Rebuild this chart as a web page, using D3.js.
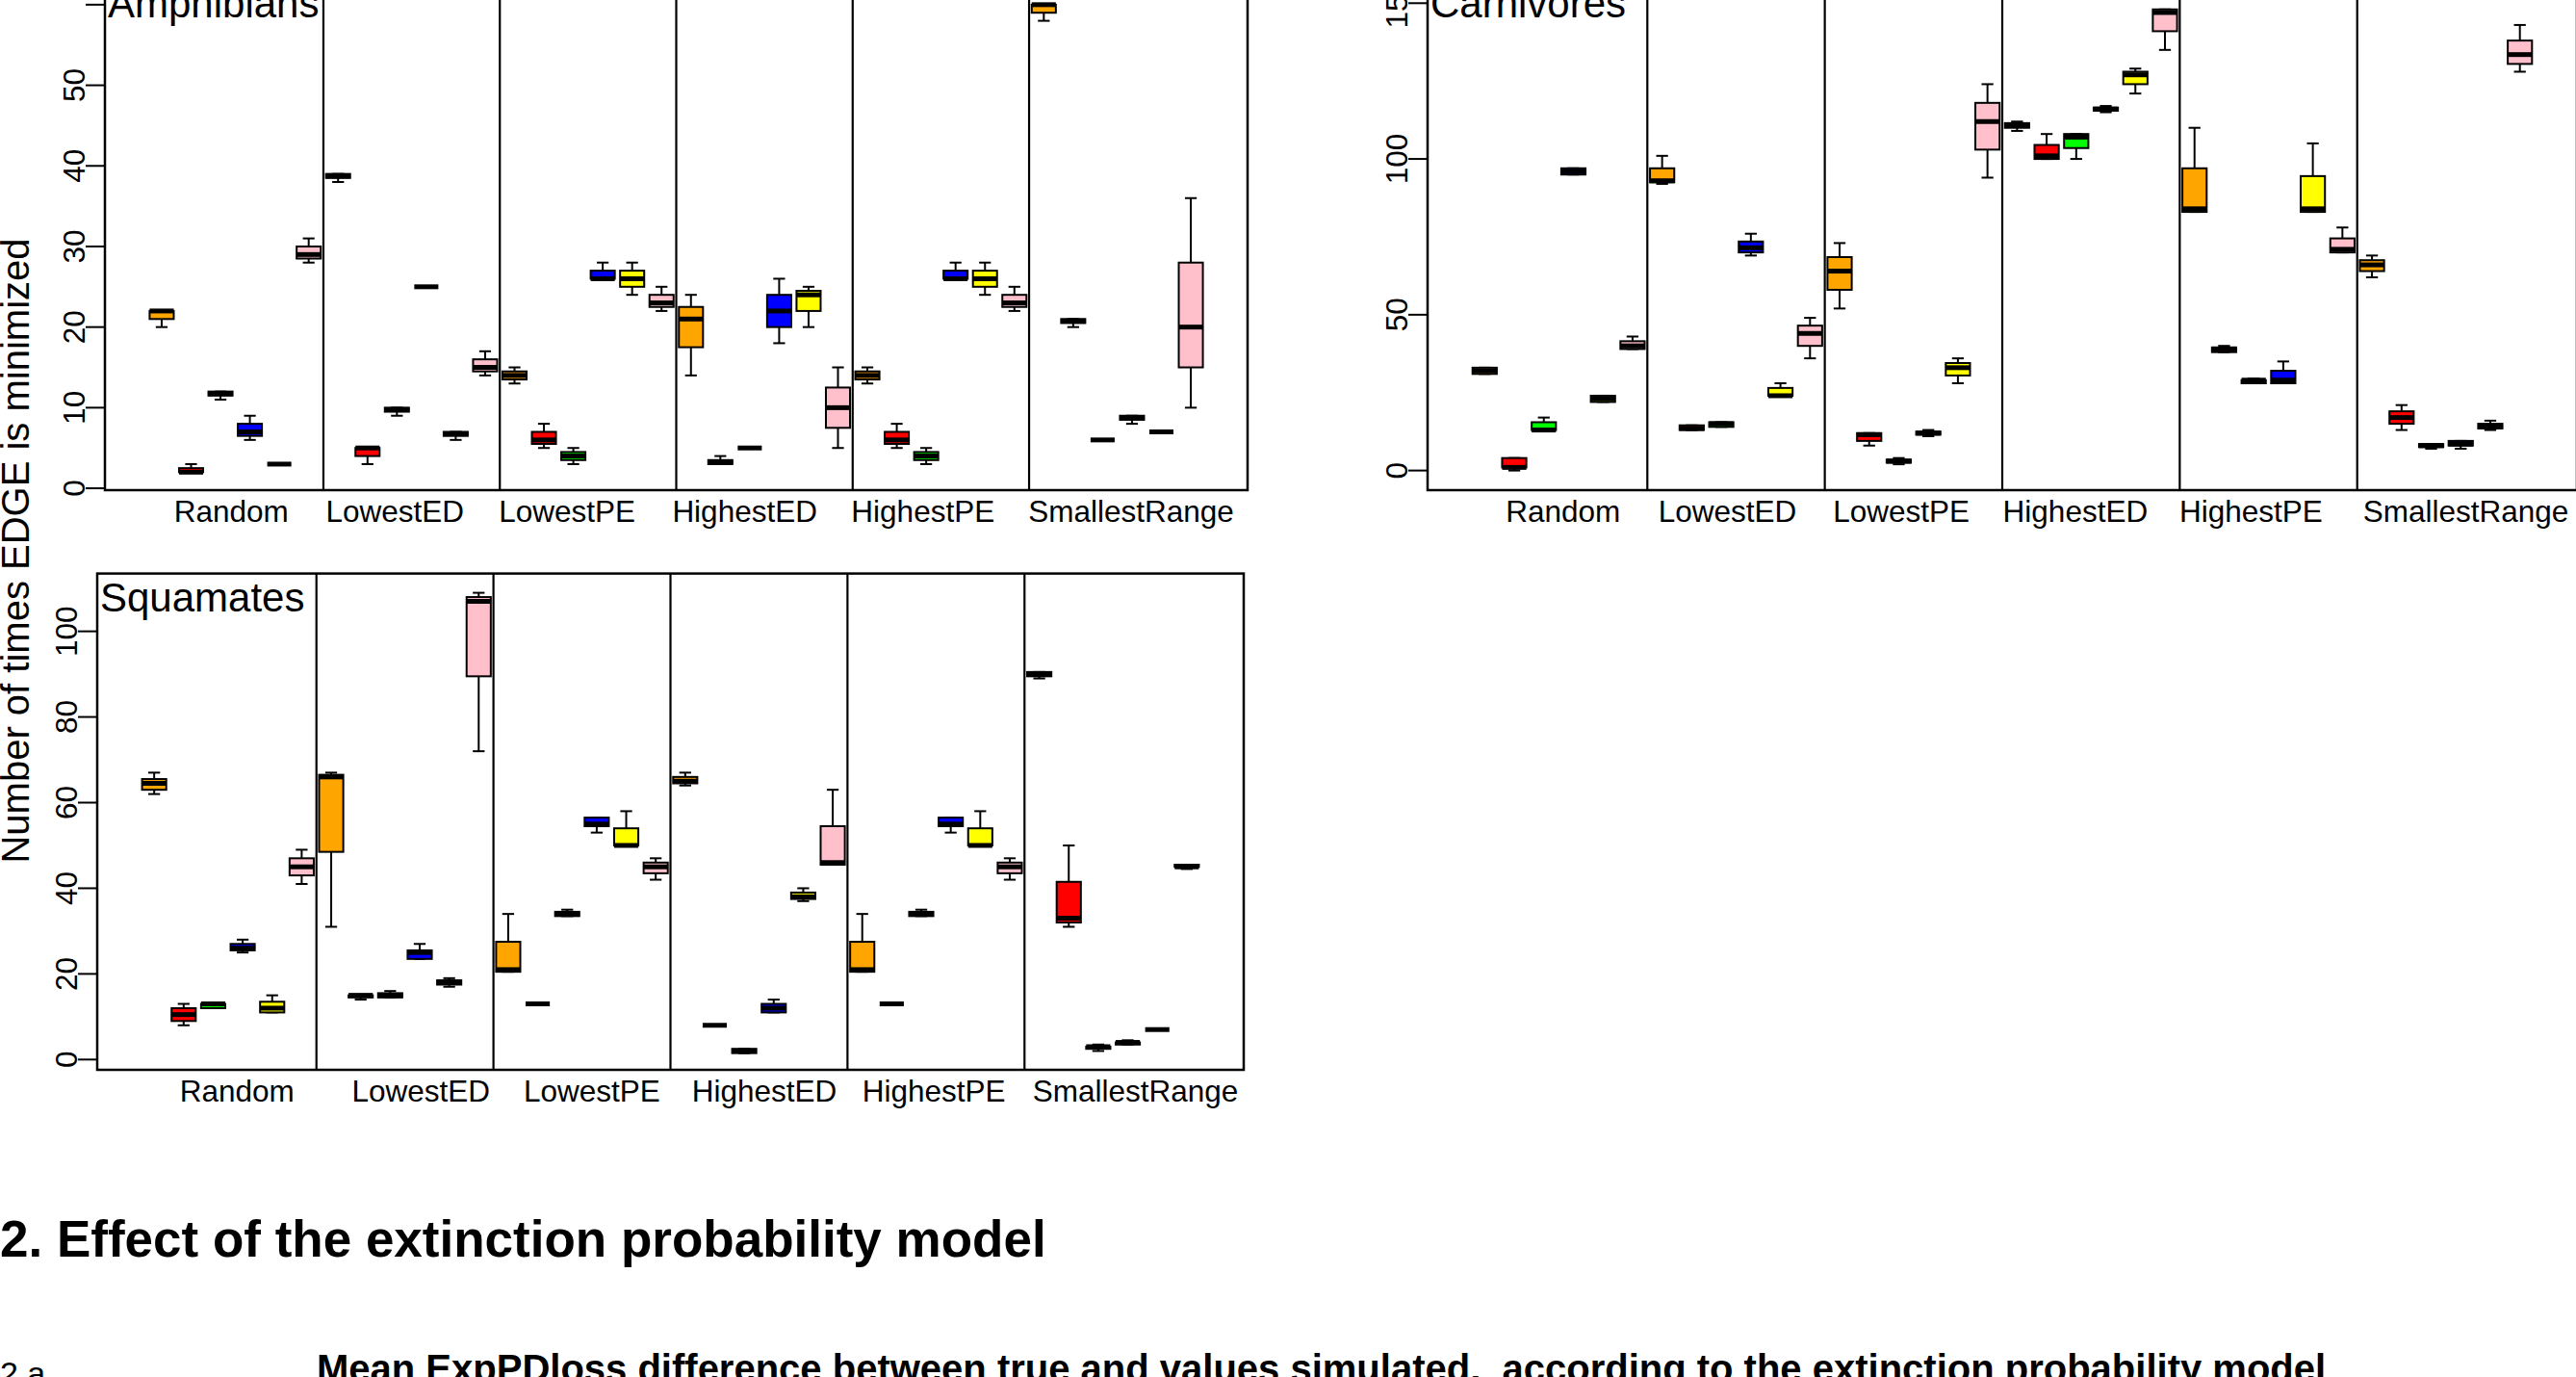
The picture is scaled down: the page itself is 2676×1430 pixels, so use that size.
<!DOCTYPE html>
<html><head><meta charset="utf-8">
<script src="https://cdn.jsdelivr.net/npm/d3@7"></script>
<style>
html,body{margin:0;padding:0;background:#fff;overflow:hidden;}
svg{display:block;font-family:"Liberation Sans",Arial,Helvetica,sans-serif;}
</style></head>
<body>
<svg id="chart" width="2676" height="1430"></svg>
<script>
// ---------- DATA ----------
const strategies = ["Random","LowestED","LowestPE","HighestED","HighestPE","SmallestRange"];
const seriesColors = ["orange","red","#00ff00","blue","yellow","pink"];
// five-number summaries [lowWhisker, q1, median, q3, highWhisker]; 6 boxes per strategy
const amphibiansStats = [
  [20,21,22,22,22],[2,2,2,2.5,3],[11,11.5,11.75,12,12],[6,6.5,7,8,9],[3,3,3,3,3],[28,28.5,29,30,31],
  [38,38.5,38.75,39,39],[3,4,5,5,5],[9,9.5,9.75,10,10],[25,25,25,25,25],[6,6.5,6.75,7,7],[14,14.5,15,16,17],
  [13,13.5,14,14.5,15],[5,5.5,6,7,8],[3,3.5,4,4.5,5],[26,26,26,27,28],[24,25,26,27,28],[22,22.5,23,24,25],
  [14,17.5,21,22.5,24],[3,3,3.2,3.5,4],[5,5,5,5,5],[18,20,22,24,26],[20,22,24,24.5,25],[5,7.5,10,12.5,15],
  [13,13.5,14,14.5,15],[5,5.5,6,7,8],[3,3.5,4,4.5,5],[26,26,26,27,28],[24,25,26,27,28],[22,22.5,23,24,25],
  [58,59,60,60,60],[20,20.5,20.75,21,21],[6,6,6,6,6],[8,8.5,8.75,9,9],[7,7,7,7,7],[10,15,20,28,36]
];
const carnivoresStats = [
  [31,31,32,33,33],[0,1,1,4,4],[13,13,13,15.5,17],[95,95,96,97,97],[22,22,23,24,24],[39,39,40,41.5,43],
  [92,92.5,93,97,101],[13,13,13.5,14.5,14.5],[14,14,15,15.5,15.5],[69,70,71.5,73.5,76],[24,24,24,26.5,28],[36,40,44,46.5,49],
  [52,58,64,68.5,73],[8,9.5,11.5,12,12],[2,2.5,3,3.5,4],[11,11.5,12,12.5,13],[28,30.5,33,34.5,36],[94,103,112,118,124],
  [109,110,111,111.5,112],[100,100,101,104.5,108],[100,103.5,107,108,108],[115,115.5,116,116.5,117],[121,124,127,128,129],[135,141,147,148,148],
  [83,83,84,97,110],[38,38,39,39.5,40],[28,28,29,29,29.5],[28,28,29,32,35],[83,83,84,94.5,105],[70,70,71,74.5,78],
  [62,64,66,67.5,69],[13,15,17,19,21],[7,7.5,8,8.5,8.5],[7,8,8.5,9.5,9.5],[13,13.5,14,15,16],[128,130.5,133.5,138,143]
];
const squamatesStats = [
  [62,63,64.5,65.5,67],[8,9,10.5,12,13],[12,12,13,13,13],[25,25.5,26,27,28],[11,11,12,13.5,15],[41,43,45,47,49],
  [31,48.5,66,66.5,67],[14,14.5,15,15,15],[14.5,14.5,15,15.5,16],[23.5,23.5,25,25.5,27],[17,17.5,18,18.5,19],[72,89.5,107,108,109],
  [20.5,20.5,21,27.5,34],[13,13,13,13,13],[33.5,33.5,34,34.5,35],[53,54.5,55,56.5,56.5],[50,50,50,54,58],[42,43.5,45,46,47],
  [64,64.5,65,66,67],[8,8,8,8,8],[1.5,1.5,2,2.5,2.5],[11,11,12,13,14],[37,37.5,38,39,40],[45.5,45.5,46,54.5,63],
  [20.5,20.5,21,27.5,34],[13,13,13,13,13],[33.5,33.5,34,34.5,35],[53,54.5,55,56.5,56.5],[50,50,50,54,58],[42,43.5,45,46,47],
  [89,89.5,90,90.5,90.5],[31,32,33,41.5,50],[2,2.5,3,3,3.5],[3.5,3.5,4,4,4.5],[7,7,7,7,7],[44.5,45,45,45.5,45.5]
];
const amphibiansTicks = [0,10,20,30,40,50,60];
const amphibiansTickLabels = ["0","10","20","30","40","50",""];
const carnivoresTicks = [0,50,100,150];
const carnivoresTickLabels = ["0","50","100","150"];
const squamatesTicks = [0,20,40,60,80,100];
const squamatesTickLabels = ["0","20","40","60","80","100"];
// x-axis label anchors (in box-index units, like R's `at=`)
const amphibiansLabelAt = [3.37, 8.93, 14.79, 20.83, 26.89, 33.97];
const carnivoresLabelAt = [3.65, 9.21, 15.09, 20.97, 26.91, 34.17];
const squamatesLabelAt = [3.81, 10.04, 15.84, 21.68, 27.43, 34.26];
const yTitle = "Number of times EDGE is minimized";
const sectionTitle = "2. Effect of the extinction probability model";
const subLabel = "2.a";
const subTitle = "Mean ExpPDloss difference between true and values simulated,  according to the extinction probability model";

// ---------- LAYOUT ----------
const xDomain = [-0.93, 37.93];
const panels = [
  {title:"Amphibians", stats:amphibiansStats, ticks:amphibiansTicks, tickLabels:amphibiansTickLabels,
   labelAt:amphibiansLabelAt, left:109, right:1296, top:-20, bottom:509, ylim:[-0.23,62.97], titleDy:38},
  {title:"Carnivores", stats:carnivoresStats, ticks:carnivoresTicks, tickLabels:carnivoresTickLabels,
   labelAt:carnivoresLabelAt, left:1483, right:2677, top:-20, bottom:509, ylim:[-6.3,157.2], titleDy:38},
  {title:"Squamates", stats:squamatesStats, ticks:squamatesTicks, tickLabels:squamatesTickLabels,
   labelAt:squamatesLabelAt, left:101, right:1292, top:595.6, bottom:1111, ylim:[-2.4,113.5], titleDy:39}
];

const svg = d3.select("#chart");
svg.append("rect").attr("width",2676).attr("height",1430).attr("fill","#fff");

const boxHalf = 0.41, stapleHalf = 0.2;
const nPer = strategies.length;

panels.forEach(p => {
  const x = d3.scaleLinear().domain(xDomain).range([p.left, p.right]);
  const y = d3.scaleLinear().domain(p.ylim).range([p.bottom, p.top]);
  const g = svg.append("g");

  // separators between strategy groups
  const seps = d3.range(1, strategies.length).map(i => i*nPer + 0.5);
  g.selectAll("line.sep").data(seps).enter().append("line")
    .attr("x1", d=>x(d)).attr("x2", d=>x(d))
    .attr("y1", p.top).attr("y2", p.bottom)
    .attr("stroke","#000").attr("stroke-width",2.2);

  const items = p.stats.map((s,i)=>({s, pos:i+1, color:seriesColors[i%nPer]}));
  const bx = g.selectAll("g.box").data(items).enter().append("g");
  // whiskers
  bx.append("line").attr("x1",d=>x(d.pos)).attr("x2",d=>x(d.pos))
    .attr("y1",d=>y(d.s[3])).attr("y2",d=>y(d.s[4])).attr("stroke","#000").attr("stroke-width",2);
  bx.append("line").attr("x1",d=>x(d.pos)).attr("x2",d=>x(d.pos))
    .attr("y1",d=>y(d.s[1])).attr("y2",d=>y(d.s[0])).attr("stroke","#000").attr("stroke-width",2);
  // staples
  [0,4].forEach(k=>{
    bx.append("line").attr("x1",d=>x(d.pos-stapleHalf)).attr("x2",d=>x(d.pos+stapleHalf))
      .attr("y1",d=>y(d.s[k])).attr("y2",d=>y(d.s[k])).attr("stroke","#000").attr("stroke-width",2);
  });
  // box
  bx.append("rect").attr("x",d=>x(d.pos-boxHalf)).attr("width",d=>x(d.pos+boxHalf)-x(d.pos-boxHalf))
    .attr("y",d=>y(d.s[3])).attr("height",d=>Math.max(0,y(d.s[1])-y(d.s[3])))
    .attr("fill",d=>d.color).attr("stroke","#000").attr("stroke-width",2);
  // median
  bx.append("line").attr("x1",d=>x(d.pos-boxHalf)).attr("x2",d=>x(d.pos+boxHalf))
    .attr("y1",d=>y(d.s[2])).attr("y2",d=>y(d.s[2])).attr("stroke","#000").attr("stroke-width",5);

  // frame
  g.append("rect").attr("x",p.left).attr("y",p.top).attr("width",p.right-p.left).attr("height",p.bottom-p.top)
    .attr("fill","none").attr("stroke","#000").attr("stroke-width",2.5);

  // y axis ticks & labels
  g.selectAll("line.tick").data(p.ticks).enter().append("line")
    .attr("x1",p.left-20).attr("x2",p.left).attr("y1",d=>y(d)).attr("y2",d=>y(d))
    .attr("stroke","#000").attr("stroke-width",2);
  g.selectAll("text.tl").data(p.ticks).enter().append("text")
    .attr("transform",d=>`translate(${p.left-21},${y(d)}) rotate(-90)`)
    .attr("text-anchor","middle").attr("font-size",31.5)
    .text((d,i)=>p.tickLabels[i]);

  // x labels
  g.selectAll("text.xl").data(strategies).enter().append("text")
    .attr("x",(d,i)=>x(p.labelAt[i])).attr("y",p.bottom+33)
    .attr("text-anchor","middle").attr("font-size",31.5).text(d=>d);

  // panel title
  g.append("text").attr("x",p.left+3).attr("y",p.top+p.titleDy)
    .attr("font-size",42).text(p.title);
});

// y axis title
svg.append("text").attr("transform","translate(30,572) rotate(-90)")
  .attr("text-anchor","middle").attr("font-size",40).text(yTitle);

// section heading
svg.append("text").attr("x",0).attr("y",1305).attr("font-size",53).attr("font-weight","bold").text(sectionTitle);
svg.append("text").attr("x",0).attr("y",1438).attr("font-size",34).text(subLabel);
svg.append("text").attr("x",329).attr("y",1435).attr("font-size",40).attr("font-weight","bold")
  .style("white-space","pre").text(subTitle);
</script>
</body></html>
